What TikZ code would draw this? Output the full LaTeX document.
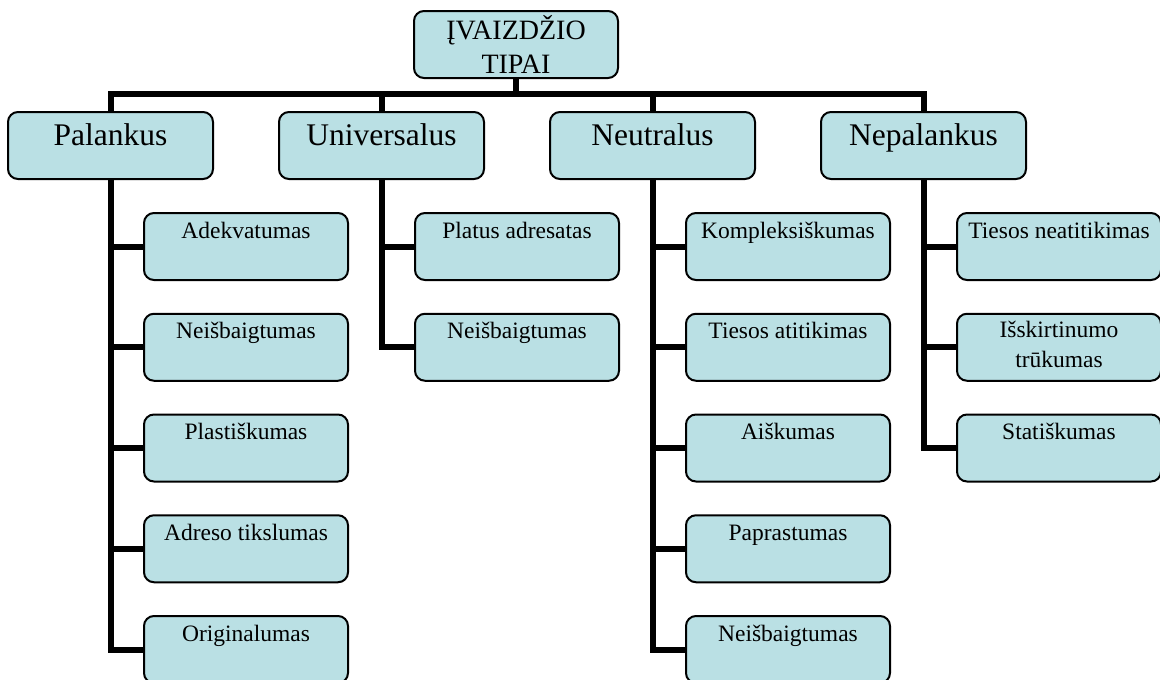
\documentclass[tikz,border=0pt]{standalone}
\usepackage{fontspec}
\setmainfont{Liberation Serif}
\definecolor{boxfill}{RGB}{186,224,228}
% fixed-size text box: height, width, first-baseline offset, contents
\newcommand\bxtxt[4]{\parbox[c][#1pt][t]{#2pt}{\centering\rule{0pt}{#3pt}#4}}
\tikzset{
  box/.style={draw=black, line width=2pt, fill=boxfill, rounded corners=10pt,
              inner sep=0pt, anchor=north west},
  conn/.style={line width=6pt, line join=miter, draw=black},
  toptext/.style={font=\fontsize{28}{34}\selectfont},
  headtext/.style={font=\fontsize{31.5}{38}\selectfont},
  itemtext/.style={font=\fontsize{23.5}{30}\selectfont}
}
\begin{document}
\begin{tikzpicture}[x=1pt,y=-1pt]
\useasboundingbox (0,0) rectangle (1160,680);

% root
\node[box,toptext] (root) at (413,10) {\bxtxt{67}{204}{28}{ĮVAIZDŽIO\\TIPAI}};

% level-1 categories
\node[box,headtext] (P)   at (7,111)   {\bxtxt{67}{205}{33}{Palankus}};
\node[box,headtext] (U)   at (278,111) {\bxtxt{67}{205}{33}{Universalus}};
\node[box,headtext] (Neu) at (549,111) {\bxtxt{67}{205}{33}{Neutralus}};
\node[box,headtext] (Nep) at (820,111) {\bxtxt{67}{205}{33}{Nepalankus}};

% Palankus items
\node[box,itemtext] (p1) at (143,212)    {\bxtxt{67}{204}{25}{Adekvatumas}};
\node[box,itemtext] (p2) at (143,312.75) {\bxtxt{67}{204}{25}{Neišbaigtumas}};
\node[box,itemtext] (p3) at (143,413.5)  {\bxtxt{67}{204}{25}{Plastiškumas}};
\node[box,itemtext] (p4) at (143,514.25) {\bxtxt{67}{204}{25}{Adreso tikslumas}};
\node[box,itemtext] (p5) at (143,615)    {\bxtxt{67}{204}{25}{Originalumas}};

% Universalus items
\node[box,itemtext] (u1) at (414,212)    {\bxtxt{67}{204}{25}{Platus adresatas}};
\node[box,itemtext] (u2) at (414,312.75) {\bxtxt{67}{204}{25}{Neišbaigtumas}};

% Neutralus items
\node[box,itemtext] (n1) at (685,212)    {\bxtxt{67}{204}{25}{Kompleksiškumas}};
\node[box,itemtext] (n2) at (685,312.75) {\bxtxt{67}{204}{25}{Tiesos atitikimas}};
\node[box,itemtext] (n3) at (685,413.5)  {\bxtxt{67}{204}{25}{Aiškumas}};
\node[box,itemtext] (n4) at (685,514.25) {\bxtxt{67}{204}{25}{Paprastumas}};
\node[box,itemtext] (n5) at (685,615)    {\bxtxt{67}{204}{25}{Neišbaigtumas}};

% Nepalankus items
\node[box,itemtext] (q1) at (956,212)    {\bxtxt{67}{204}{25}{Tiesos neatitikimas}};
\node[box,itemtext] (q2) at (956,312.75) {\bxtxt{67}{204}{24}{Išskirtinumo\\trūkumas}};
\node[box,itemtext] (q3) at (956,413.5)  {\bxtxt{67}{204}{25}{Statiškumas}};

% bus from the root to the categories
\coordinate (bus) at (0,94);
\draw[conn] (root.south) -- (root.south |- bus);
\draw[conn] (P.north) |- (Nep.north |- bus) -- (Nep.north);
\draw[conn] (U.north) -- (U.north |- bus);
\draw[conn] (Neu.north) -- (Neu.north |- bus);

% category spines to their items
\draw[conn] (P.south) |- (p5.west);
\foreach \c in {p1,p2,p3,p4} \draw[conn] (P.south |- \c.west) -- (\c.west);
\draw[conn] (U.south) |- (u2.west);
\draw[conn] (U.south |- u1.west) -- (u1.west);
\draw[conn] (Neu.south) |- (n5.west);
\foreach \c in {n1,n2,n3,n4} \draw[conn] (Neu.south |- \c.west) -- (\c.west);
\draw[conn] (Nep.south) |- (q3.west);
\foreach \c in {q1,q2} \draw[conn] (Nep.south |- \c.west) -- (\c.west);
\end{tikzpicture}
\end{document}
